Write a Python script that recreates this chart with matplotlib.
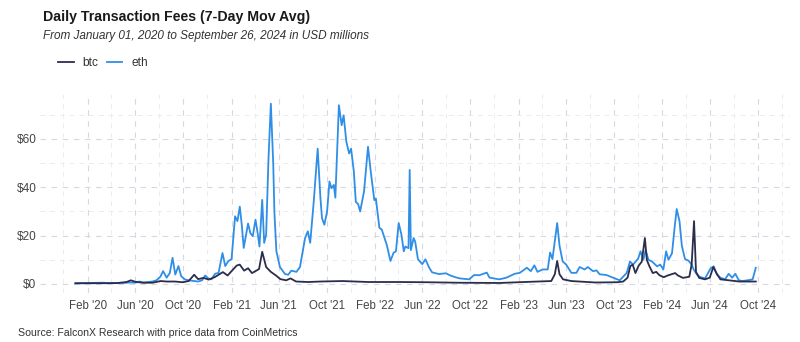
import matplotlib
matplotlib.use("Agg")
import matplotlib.pyplot as plt
import matplotlib.dates as mdates
import pandas as pd

plt.rcParams['font.family'] = ['Liberation Sans', 'DejaVu Sans']

title = "Daily Transaction Fees (7-Day Mov Avg)"
subtitle = "From January 01, 2020 to September 26, 2024 in USD millions"
caption = "Source: FalconX Research with price data from CoinMetrics"

eth_dates = [
    "2020-01-01", "2020-01-20", "2020-02-10", "2020-02-25", "2020-03-12", "2020-03-25",
    "2020-04-15", "2020-05-05", "2020-05-20", "2020-06-01", "2020-06-12", "2020-06-22",
    "2020-07-05", "2020-07-15", "2020-07-25", "2020-08-04", "2020-08-11", "2020-08-20",
    "2020-08-28", "2020-09-04", "2020-09-11", "2020-09-19", "2020-09-26", "2020-10-05",
    "2020-10-15", "2020-10-25", "2020-11-08", "2020-11-18", "2020-11-26", "2020-12-04",
    "2020-12-12", "2020-12-21", "2020-12-30", "2021-01-09", "2021-01-16", "2021-01-24",
    "2021-02-01", "2021-02-10", "2021-02-16", "2021-02-22", "2021-02-27", "2021-03-04",
    "2021-03-15", "2021-03-21", "2021-03-27", "2021-04-03", "2021-04-09", "2021-04-13",
    "2021-04-20", "2021-04-25", "2021-04-30", "2021-05-06", "2021-05-12", "2021-05-18",
    "2021-05-21", "2021-05-26", "2021-06-04", "2021-06-17", "2021-06-25", "2021-07-03",
    "2021-07-16", "2021-07-25", "2021-08-07", "2021-08-14", "2021-08-20", "2021-08-29",
    "2021-09-08", "2021-09-15", "2021-09-19", "2021-09-25", "2021-10-02", "2021-10-08",
    "2021-10-13", "2021-10-19", "2021-10-23", "2021-11-01", "2021-11-08", "2021-11-13",
    "2021-11-20", "2021-11-27", "2021-12-02", "2021-12-09", "2021-12-14", "2021-12-20",
    "2021-12-25", "2022-01-04", "2022-01-14", "2022-01-21", "2022-01-30", "2022-02-03",
    "2022-02-12", "2022-02-18", "2022-02-25", "2022-03-03", "2022-03-12", "2022-03-20",
    "2022-03-26", "2022-04-02", "2022-04-09", "2022-04-15", "2022-04-19", "2022-04-27",
    "2022-04-30", "2022-05-03", "2022-05-10", "2022-05-14", "2022-05-21", "2022-06-01",
    "2022-06-09", "2022-06-18", "2022-06-26", "2022-07-13", "2022-07-31", "2022-08-13",
    "2022-08-26", "2022-09-04", "2022-09-28", "2022-10-11", "2022-10-24", "2022-11-12",
    "2022-11-19", "2022-12-14", "2023-01-01", "2023-01-22", "2023-02-04", "2023-02-22",
    "2023-03-04", "2023-03-13", "2023-03-21", "2023-04-03", "2023-04-16", "2023-04-22",
    "2023-04-28", "2023-05-03", "2023-05-10", "2023-05-16", "2023-05-24", "2023-06-02",
    "2023-06-15", "2023-06-28", "2023-07-06", "2023-07-19", "2023-07-27", "2023-08-09",
    "2023-08-18", "2023-08-26", "2023-09-12", "2023-09-29", "2023-10-16", "2023-11-03",
    "2023-11-11", "2023-11-19", "2023-12-02", "2023-12-08", "2023-12-15", "2023-12-21",
    "2023-12-28", "2024-01-06", "2024-01-19", "2024-01-27", "2024-02-04", "2024-02-11",
    "2024-02-17", "2024-02-26", "2024-03-04", "2024-03-09", "2024-03-16", "2024-03-22",
    "2024-03-30", "2024-04-08", "2024-04-16", "2024-04-21", "2024-04-29", "2024-05-07",
    "2024-05-20", "2024-06-03", "2024-06-11", "2024-06-19", "2024-06-28", "2024-07-10",
    "2024-07-19", "2024-07-28", "2024-08-05", "2024-08-14", "2024-08-22", "2024-09-05",
    "2024-09-18", "2024-09-26",
]
eth_values = [
    0.3, 0.35, 0.4, 0.45, 0.5, 0.35,
    0.35, 0.45, 0.6, 0.5, 1.0, 0.6,
    0.8, 1.0, 1.5, 3.0, 5.3, 2.6,
    4.5, 10.8, 3.9, 7.4, 3.2, 1.9,
    1.5, 1.3, 1.0, 1.5, 3.5, 2.3,
    1.9, 4.2, 4.6, 12.8, 7.4, 9.5,
    10.2, 28.0, 26.0, 32.0, 24.5, 14.9,
    25.0, 21.0, 19.8, 26.6, 20.4, 15.5,
    34.8, 17.0, 20.4, 52.0, 74.6, 50.0,
    29.7, 13.6, 7.0, 4.1, 3.8, 5.5,
    5.0, 7.0, 19.0, 21.8, 17.0, 34.0,
    56.0, 35.7, 27.3, 24.5, 30.0, 42.4,
    39.6, 41.0, 35.7, 74.0, 65.7, 69.8,
    58.8, 54.0, 56.0, 46.5, 34.0, 33.0,
    30.0, 38.4, 56.8, 46.5, 34.7, 35.4,
    23.2, 22.5, 19.0, 16.0, 9.5, 12.9,
    13.5, 25.2, 20.4, 13.5, 15.5, 14.8,
    47.2, 14.0, 19.0, 17.5, 10.2, 8.2,
    10.2, 6.9, 4.8, 4.1, 4.4, 3.4,
    2.7, 2.3, 1.9, 3.7, 3.6, 4.7,
    2.6, 1.9, 2.6, 4.2, 4.6, 6.7,
    5.3, 7.7, 5.0, 6.0, 6.0, 13.0,
    10.3, 16.5, 25.2, 15.8, 9.3, 8.0,
    4.6, 4.6, 7.0, 6.0, 7.0, 5.3,
    5.6, 4.0, 3.7, 2.6, 1.5, 4.6,
    9.3, 8.0, 10.5, 13.5, 10.0, 14.0,
    10.0, 9.3, 7.3, 8.0, 6.0, 13.5,
    10.0, 12.7, 24.0, 31.0, 26.0, 15.8,
    10.3, 9.6, 8.0, 6.0, 4.0, 2.9,
    2.3, 6.4, 7.3, 3.9, 2.6, 1.9,
    4.2, 2.6, 4.2, 1.5, 1.2, 1.5,
    1.9, 6.7,
]

btc_dates = [
    "2020-01-01", "2020-02-15", "2020-03-15", "2020-04-15", "2020-05-10", "2020-05-21",
    "2020-06-01", "2020-06-20", "2020-07-15", "2020-08-05", "2020-08-20", "2020-09-10",
    "2020-09-30", "2020-10-15", "2020-10-29", "2020-11-08", "2020-11-22", "2020-12-05",
    "2020-12-20", "2021-01-10", "2021-01-22", "2021-02-05", "2021-02-14", "2021-02-22",
    "2021-03-05", "2021-03-15", "2021-03-25", "2021-04-05", "2021-04-12", "2021-04-20",
    "2021-04-30", "2021-05-12", "2021-05-25", "2021-06-05", "2021-06-20", "2021-07-01",
    "2021-07-15", "2021-08-15", "2021-09-15", "2021-11-10", "2022-01-15", "2022-04-01",
    "2022-06-15", "2022-09-01", "2022-12-15", "2023-02-15", "2023-04-25", "2023-05-04",
    "2023-05-10", "2023-05-16", "2023-05-25", "2023-06-15", "2023-08-15", "2023-10-10",
    "2023-10-25", "2023-11-05", "2023-11-12", "2023-11-18", "2023-11-25", "2023-12-03",
    "2023-12-11", "2023-12-19", "2023-12-24", "2023-12-30", "2024-01-08", "2024-01-17",
    "2024-01-25", "2024-02-05", "2024-02-15", "2024-03-05", "2024-03-12", "2024-03-25",
    "2024-04-10", "2024-04-16", "2024-04-22", "2024-04-27", "2024-05-05", "2024-05-20",
    "2024-06-01", "2024-06-10", "2024-06-18", "2024-06-28", "2024-07-20", "2024-08-15",
    "2024-09-26",
]
btc_values = [
    0.25, 0.3, 0.3, 0.35, 0.8, 1.5,
    0.9, 0.5, 0.5, 1.2, 1.0, 1.0,
    0.7, 1.2, 3.8, 2.0, 2.5, 1.8,
    2.8, 4.9, 3.5, 6.0, 7.6, 8.0,
    5.5, 6.5, 4.5, 5.5, 6.2, 13.3,
    7.0, 5.0, 3.5, 2.0, 1.5, 2.3,
    1.0, 0.8, 1.0, 1.2, 0.8, 0.8,
    0.7, 0.5, 0.4, 0.8, 1.2, 4.0,
    9.5, 4.0, 1.9, 1.2, 0.6, 0.7,
    1.0, 2.6, 7.4, 8.0, 4.5, 7.5,
    9.2, 19.0, 9.9, 7.5, 4.5, 5.0,
    3.6, 2.8, 3.5, 4.5, 3.5, 2.5,
    3.0, 8.2, 26.0, 5.0, 2.5, 1.9,
    2.6, 7.0, 4.5, 1.9, 1.5, 1.0,
    1.0,
]

y_ticks = [0, 20, 40, 60]
y_tick_labels = ["$0", "$20", "$40", "$60"]

W, H = 800, 342
fig = plt.figure(figsize=(W / 100, H / 100), dpi=100)
ax = fig.add_axes([40 / W, 1 - 293 / H, 750 / W, 199.3 / H])

btc_color = "#2b2d4d"
eth_color = "#2f8ee6"

l1, = ax.plot(pd.to_datetime(btc_dates), btc_values, color=btc_color, lw=1.3, label="btc",
              zorder=3, solid_joinstyle="round")
l2, = ax.plot(pd.to_datetime(eth_dates), eth_values, color=eth_color, lw=1.3, label="eth",
              zorder=2, solid_joinstyle="round")

ax.set_ylim(-3.75, 78.75)
ax.set_xlim(pd.Timestamp("2019-10-03"), pd.Timestamp("2024-12-22"))
ax.set_yticks(y_ticks)
ax.set_yticklabels(y_tick_labels)
ax.set_yticks([10, 30, 50, 70], minor=True)

ax.xaxis.set_major_locator(mdates.MonthLocator(bymonth=[2, 6, 10]))
ax.xaxis.set_major_formatter(mdates.DateFormatter("%b '%y"))
ax.xaxis.set_minor_locator(mdates.MonthLocator(bymonth=[4, 8, 12]))

for s in ax.spines.values():
    s.set_visible(False)
ax.tick_params(axis="both", which="both", length=0)
ax.tick_params(axis="x", pad=5, labelsize=8.3, colors="#444444")
ax.tick_params(axis="y", pad=2.5, labelsize=8.5, colors="#444444")

ax.grid(True, which="major", color="#d8d8e2", lw=0.8, ls=(0, (5, 5)))
ax.grid(True, which="minor", color="#ebebf1", lw=0.7, ls=(0, (5, 5)))
ax.set_axisbelow(True)

fig.text(43 / W, 1 - 21 / H, title, fontsize=10.2, fontweight="bold", color="#1a1a1a", va="baseline")
fig.text(43 / W, 1 - 38.5 / H, subtitle, fontsize=8.5, style="italic", color="#333333", va="baseline")
fig.text(18 / W, 1 - 336 / H, caption, fontsize=7.6, color="#333333", va="baseline")

fig.legend(handles=[l1, l2], loc="center left", bbox_to_anchor=(52 / W, 1 - 63 / H),
           ncol=2, frameon=False, borderpad=0, handlelength=1.3, handletextpad=0.75,
           columnspacing=0.7, fontsize=8.6, labelcolor="#333333")

fig.savefig("out.png", dpi=100)
